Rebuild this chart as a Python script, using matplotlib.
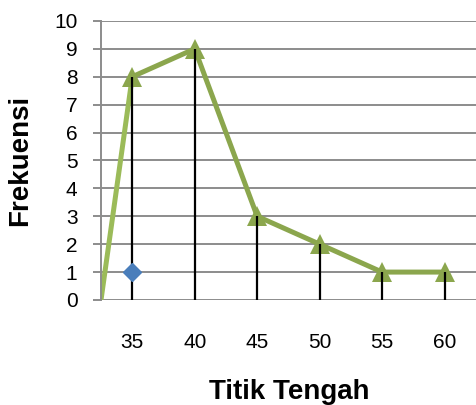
import matplotlib.pyplot as plt

# data
titik_tengah = [35, 40, 45, 50, 55, 60]
frekuensi = [8, 9, 3, 2, 1, 1]
x_awal, y_awal = 32.5, 0   # titik awal poligon di sumbu
diamond_x = [35]
diamond_y = [1]

plt.rcParams['font.family'] = ['Liberation Sans', 'DejaVu Sans']

fig = plt.figure(figsize=(4.76, 4.05), dpi=100)
ax = fig.add_axes([0.2122, 0.2593, 0.79, 0.689])

# garis grid
for v in range(0, 11):
    ax.axhline(v, color='#8c8c8c', lw=1.4, zorder=1)

# garis jatuh (drop lines)
ax.vlines(titik_tengah, 0, frekuensi, color='black', lw=1.6, zorder=3)

# poligon frekuensi
ax.plot([x_awal, titik_tengah[0]], [y_awal, frekuensi[0]], color='#9BBB59',
        lw=3.6, solid_capstyle='butt', zorder=2)
ax.plot(titik_tengah, frekuensi, color='#8BA64D', lw=3.6, marker='^',
        markersize=14, markeredgewidth=0, zorder=2)
ax.plot(diamond_x, diamond_y, linestyle='none', marker='D', color='#4A7EBB',
        markersize=9, zorder=4)

ax.set_xlim(32.5, 62.6)
ax.set_ylim(0, 10)
ax.set_yticks(range(0, 11))
ax.set_xticks(titik_tengah)
ax.tick_params(axis='y', length=6, width=1.4, color='#8c8c8c', labelsize=15, pad=11)
ax.tick_params(axis='x', length=0, labelsize=15, pad=24)
for s in ['top', 'right', 'bottom']:
    ax.spines[s].set_visible(False)
ax.spines['left'].set_color('#8c8c8c')
ax.spines['left'].set_linewidth(1.4)

ax.set_xlabel('Titik Tengah', fontsize=20, fontweight='bold', labelpad=19)
ax.set_ylabel('Frekuensi', fontsize=20, fontweight='bold')
ax.yaxis.set_label_coords(-0.18, 0.5)

fig.savefig('out.png', dpi=100)
